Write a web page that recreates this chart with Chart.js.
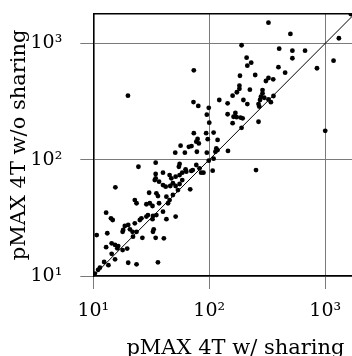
<!DOCTYPE html>
<html>
<head>
<meta charset="utf-8">
<script src="https://cdn.jsdelivr.net/npm/chart.js@4.4.1/dist/chart.umd.min.js"></script>
<style>
html, body { margin: 0; padding: 0; overflow: hidden; background: #fff; }
</style>
</head>
<body>
<canvas id="myChart" width="380" height="356"></canvas>
<script>
// x: pMAX 4T w/ sharing, y: pMAX 4T w/o sharing
var withSharing = [1660, 324, 501, 1312, 190, 401, 521, 670, 521, 1180, 210, 230, 213, 395, 849, 451, 73.6, 184, 249, 324,
    356, 308, 182, 182, 224, 288, 173, 159, 288, 279, 298, 358, 274, 324, 340, 266, 270, 19.9, 197, 213,
    122, 144, 73.1, 80.4, 99, 95.3, 144, 162, 172, 186, 194, 168, 100, 159, 266, 190, 1000, 73.6, 94, 109,
    79.3, 77.3, 81.3, 97, 118, 56.6, 66.7, 70.3, 115, 118, 113, 50.9, 61.6, 78.2, 95.3, 145, 109, 99, 24.5, 34.5,
    55.5, 54.7, 77.3, 82.4, 89.1, 253, 107, 62.5, 72.1, 34.5, 39.9, 45.5, 47.1, 51.3, 55.5, 58.5, 63.4, 70, 85.1, 15.5,
    33.9, 36.9, 39.9, 42.1, 46.1, 48.6, 51.3, 55.5, 58.5, 53.7, 48.6, 68.5, 30.3, 35, 36.1, 42.7, 22.8, 23.6, 28.7, 30.7,
    32.4, 36.9, 39.9, 44.1, 45.5, 12.9, 14.2, 14.7, 18.7, 20, 18.1, 17.9, 20.7, 22.8, 23.6, 25.2, 26, 28.7, 29.6, 32.7,
    32.4, 35, 42.7, 51.3, 10.7, 13.2, 21.8, 22, 26.5, 32.7, 33.2, 34.5, 40.6, 12.9, 14.4, 15.4, 16.4, 16.1, 17.9, 19.6,
    14.4, 15.4, 13.5, 11.4, 11, 10.3, 10.1, 20, 23.6, 36.1, 34.5, 12.4];
var withoutSharing = [1790, 1507, 1205, 1107, 964, 900, 865, 865, 745, 710, 753, 682, 643, 624, 611, 560, 587, 527, 535, 504,
    491, 475, 433, 407, 400, 397, 380, 355, 372, 348, 341, 353, 326, 330, 312, 301, 286, 355, 326, 301,
    326, 305, 313, 290, 279, 244, 246, 234, 232, 230, 227, 252, 208, 206, 212, 188, 177, 169, 169, 171,
    151, 143, 138, 150, 148, 132, 129, 131, 125, 121, 117, 115, 115, 117, 115, 119, 102, 98, 87, 94.2,
    91.8, 87, 90, 84.3, 77.3, 81.5, 80.4, 82.6, 81.5, 75.3, 77.3, 73.8, 69.2, 71.5, 73.8, 77.3, 78.9, 80, 77.3, 57.9,
    66.8, 64.7, 60.5, 58.6, 59.4, 62.7, 59.4, 61.8, 66.8, 54.8, 49.7, 55.6, 52, 51.4, 48.7, 48.1, 45, 42.2, 41.4, 42.2,
    40, 42.2, 35.7, 42.2, 45, 35, 31.3, 30.3, 26.9, 27.5, 24.9, 24, 25.2, 28.4, 24, 30.3, 31.3, 32.4, 33.4, 32.8,
    30.8, 33.4, 30.8, 32.4, 22.5, 23.3, 24, 21.8, 21.3, 24, 25.2, 21.3, 21.1, 17.7, 19.1, 18.5, 18.1, 17.3, 16.7, 17.2,
    15.5, 13.9, 12.4, 11.8, 11.3, 10.5, 10.1, 13, 12.6, 13.1, 69.2, 13.2];

var tickValues = [10, 100, 1000];
var tickLabels = ['10¹', '10²', '10³'];
var axisMin = 10;
var xMax = 2830;   // plot runs past the right edge of the picture
var yMax = 1800;

var serif = "'DejaVu Serif', serif";

window.onload = function() {
    var points = [];
    for (var i = 0; i < withSharing.length; i++) {
        points.push({ x: withSharing[i], y: withoutSharing[i] });
    }

    function decadeTicks(scale) {
        scale.ticks = tickValues.map(function(v) { return { value: v }; });
    }
    function tickText(value) {
        var i = tickValues.indexOf(value);
        return i >= 0 ? tickLabels[i] : '';
    }
    // fixed axis boxes, no extra room reserved for end labels
    function fixSize(w, h) {
        return function(scale) {
            if (w !== null) scale.width = w;
            if (h !== null) scale.height = h;
            scale.paddingTop = 0;
            scale.paddingBottom = 0;
            scale.paddingLeft = 0;
            scale.paddingRight = 0;
        };
    }

    var gridOpts = { color: '#7a7a7a', lineWidth: 1, drawTicks: true, tickLength: 13 };
    var borderOpts = { display: true, color: '#000', width: 1.6 };

    var ctx = document.getElementById('myChart').getContext('2d');
    var myChart = new Chart(ctx, {
        type: 'scatter',
        data: {
            datasets: [{
                label: 'runs',
                data: points,
                backgroundColor: '#000',
                borderWidth: 0,
                pointRadius: 2.4,
                pointHoverRadius: 2.4
            },
            {
                type: 'line',
                label: 'y = x',
                data: [{ x: axisMin, y: axisMin }, { x: xMax, y: xMax }],
                borderColor: '#000',
                borderWidth: 1,
                pointRadius: 0,
                fill: false
            }]
        },
        options: {
            responsive: false,
            animation: false,
            layout: { padding: { top: 13.7, left: 0, right: 0, bottom: 0 } },
            plugins: { legend: { display: false }, tooltip: { enabled: false } },
            scales: {
                x: {
                    type: 'logarithmic',
                    position: 'bottom',
                    min: axisMin,
                    max: xMax,
                    afterBuildTicks: decadeTicks,
                    afterFit: fixSize(null, 80),
                    grid: gridOpts,
                    border: borderOpts,
                    ticks: {
                        callback: tickText,
                        autoSkip: false,
                        maxRotation: 0,
                        padding: 11,
                        color: '#000',
                        font: { family: serif, size: 19 }
                    },
                    title: {
                        display: true,
                        text: 'pMAX 4T w/ sharing',
                        color: '#000',
                        font: { family: serif, size: 21 },
                        padding: { top: 0, bottom: -5 }
                    }
                },
                xTop: {
                    type: 'logarithmic',
                    position: 'top',
                    min: axisMin,
                    max: xMax,
                    afterFit: fixSize(null, 0),
                    grid: { display: false },
                    border: borderOpts,
                    ticks: { display: false }
                },
                y: {
                    type: 'logarithmic',
                    min: axisMin,
                    max: yMax,
                    afterBuildTicks: decadeTicks,
                    afterFit: fixSize(93.3, null),
                    grid: gridOpts,
                    border: borderOpts,
                    ticks: {
                        callback: tickText,
                        autoSkip: false,
                        padding: 18,
                        color: '#000',
                        font: { family: serif, size: 19 }
                    },
                    title: {
                        display: true,
                        text: 'pMAX 4T w/o sharing',
                        color: '#000',
                        font: { family: serif, size: 21 },
                        padding: { top: 7, bottom: 0 }
                    }
                }
            }
        }
    });
};
</script>
</body>
</html>
